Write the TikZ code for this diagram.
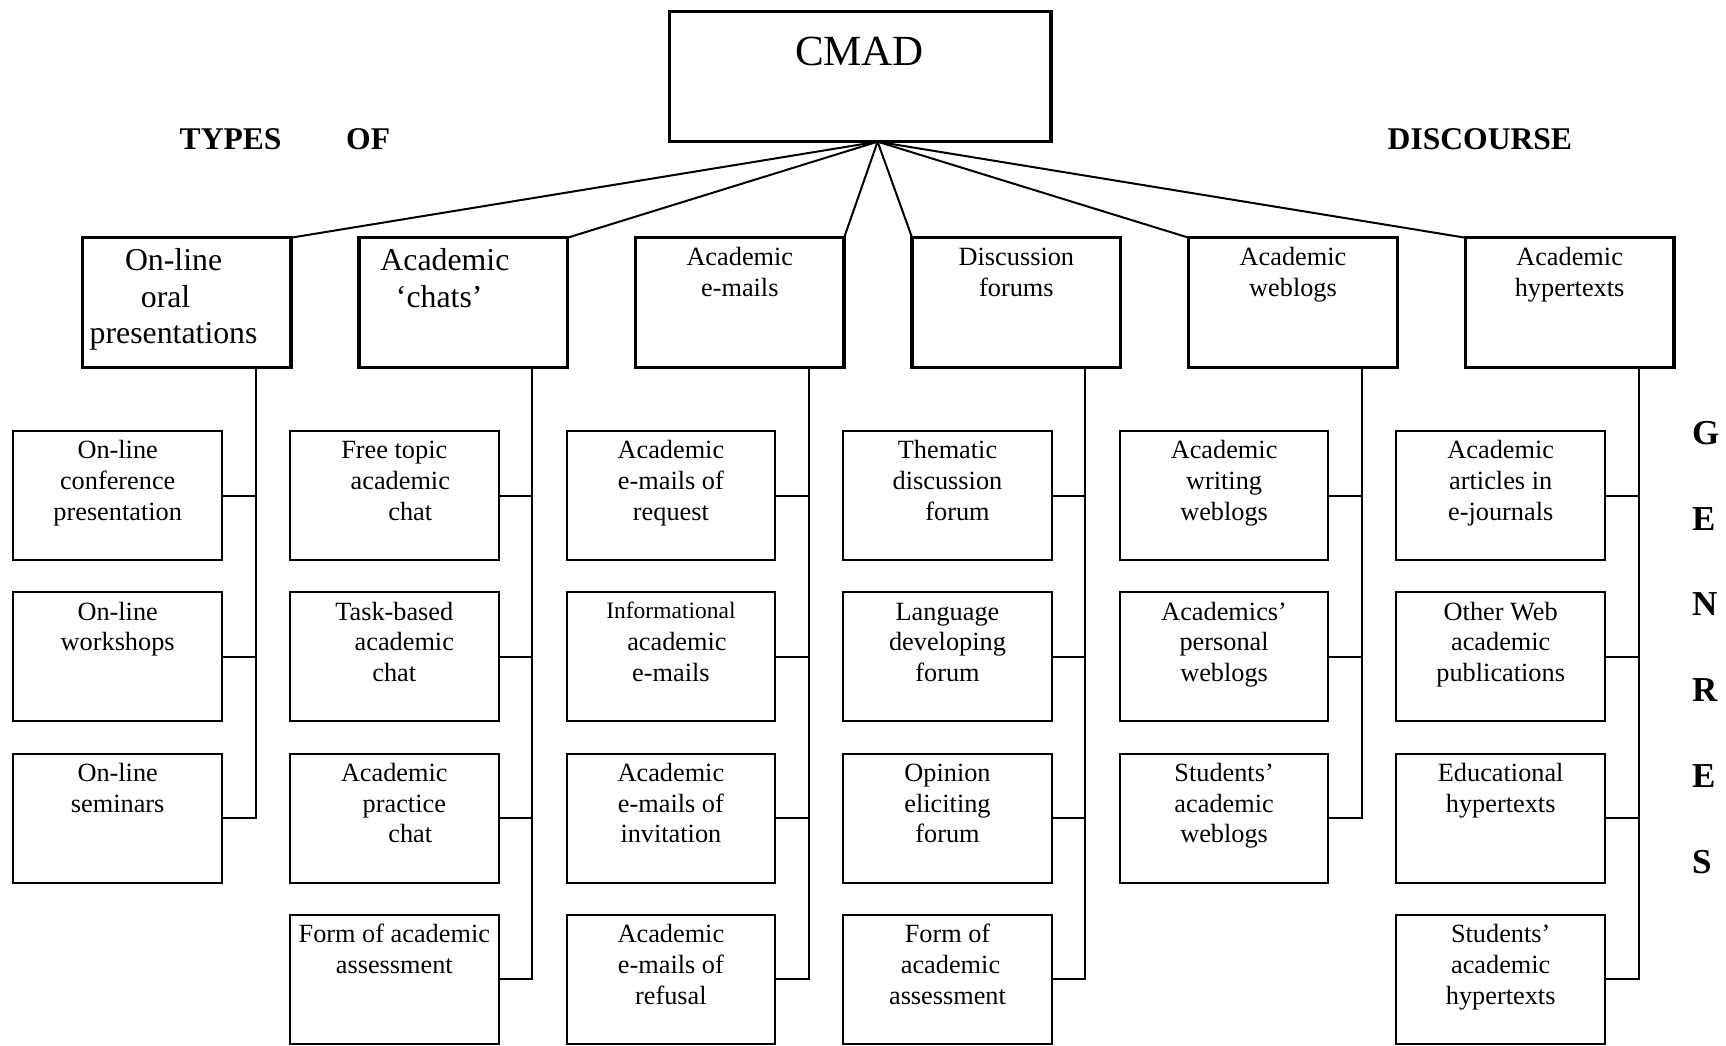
\documentclass[tikz,border=0pt]{standalone}
\usepackage{fontspec}
\setmainfont{Liberation Serif}
\usetikzlibrary{calc}
\newcommand\shr[2]{\hspace*{#1}#2}
\newcommand\shl[2]{#2\hspace*{#1}}
\newcommand\lines[1]{\begin{tabular}[t]{@{}c@{}}#1\end{tabular}}
\begin{document}
\begin{tikzpicture}[x=1pt,y=-1pt,
  topbox/.style={draw, line width=3.3pt, inner sep=0pt, outer sep=0pt, minimum width=381.2pt, minimum height=130pt},
  typebox/.style={draw, line width=3.3pt, inner sep=0pt, outer sep=0pt, minimum width=208.6pt, minimum height=130pt},
  genrebox/.style={draw, line width=2.1pt, inner sep=0pt, outer sep=0pt, minimum width=208.6pt, minimum height=129pt},
  link/.style={line width=2pt},
  bigtxt/.style={inner sep=0pt, anchor=base, font=\fontsize{31.8}{36.3}\selectfont},
  midtxt/.style={inner sep=0pt, anchor=base, font=\fontsize{26.3}{30.3}\selectfont},
  smalltxt/.style={inner sep=0pt, anchor=base, font=\fontsize{26.3}{30.7}\selectfont},
  headtxt/.style={inner sep=0pt, anchor=base west, font=\bfseries\fontsize{31.6}{36}\selectfont},
  lettertxt/.style={inner sep=0pt, anchor=base west, font=\bfseries\fontsize{35}{40}\selectfont},
]
\useasboundingbox (0,0) rectangle (1726,1045);

% root
\node[topbox] (cmad) at (860.4,76.7) {};
\node[inner sep=0pt, anchor=base, font=\fontsize{43}{50}\selectfont] (cmadt) at (859.5,65) {CMAD};
\coordinate (apex) at ($(cmad.south)+(17.2,0)$);

% headings
\node[headtxt] (types) at (179.5,149) {TYPES};
\node[headtxt] (of) at (346,149) {OF};
\node[headtxt] (disc) at (1387.5,149) {DISCOURSE};
\node[lettertxt] (g1) at (1692,444.5) {G};
\node[lettertxt] (g2) at (1692,530.2) {E};
\node[lettertxt] (g3) at (1692,615.9) {N};
\node[lettertxt] (g4) at (1692,701.6) {R};
\node[lettertxt] (g5) at (1692,787.3) {E};
\node[lettertxt] (g6) at (1692,873.0) {S};

% types
\node[typebox] (b1) at (186.6,302.7) {};
\node[typebox] (b2) at (463.2,302.7) {};
\node[typebox] (b3) at (739.8,302.7) {};
\node[typebox] (b4) at (1016.4,302.7) {};
\node[typebox] (b5) at (1293.0,302.7) {};
\node[typebox] (b6) at (1569.6,302.7) {};
\node[bigtxt] (b1t) at ($(b1.north)+(-13,33)$) {\lines{On-line\\\shl{16pt}{oral}\\presentations}};
\node[bigtxt] (b2t) at ($(b2.north)+(-18.3,33)$) {\lines{Academic\\\shl{11.4pt}{‘chats’}}};
\node[midtxt] (b3t) at ($(b3.north)+(0,28)$) {\lines{Academic\\e-mails}};
\node[midtxt] (b4t) at ($(b4.north)+(0,28)$) {\lines{Discussion\\forums}};
\node[midtxt] (b5t) at ($(b5.north)+(0,28)$) {\lines{Academic\\weblogs}};
\node[midtxt] (b6t) at ($(b6.north)+(0,28)$) {\lines{Academic\\hypertexts}};

\draw[link] (apex) -- (b1.north east);
\draw[link] (apex) -- (b2.north east);
\draw[link] (apex) -- (b3.north east);
\draw[link] (apex) -- (b4.north west);
\draw[link] (apex) -- (b5.north west);
\draw[link] (apex) -- (b6.north west);

% genre boxes: column 1
\node[genrebox] (c1r1) at (117.7,495.5) {};
\node[genrebox] (c1r2) at (117.7,656.8) {};
\node[genrebox] (c1r3) at (117.7,818.1) {};
\node[smalltxt] (c1r1t) at ($(c1r1.north)+(0,27.8)$) {\lines{On-line\\conference\\presentation}};
\node[smalltxt] (c1r2t) at ($(c1r2.north)+(0,27.8)$) {\lines{On-line\\workshops}};
\node[smalltxt] (c1r3t) at ($(c1r3.north)+(0,27.8)$) {\lines{On-line\\seminars}};

% column 2
\node[genrebox] (c2r1) at (394.3,495.5) {};
\node[genrebox] (c2r2) at (394.3,656.8) {};
\node[genrebox] (c2r3) at (394.3,818.1) {};
\node[genrebox] (c2r4) at (394.3,979.4) {};
\node[smalltxt] (c2r1t) at ($(c2r1.north)+(0,27.8)$) {\lines{Free topic\\\shr{12pt}{academic}\\\shr{32pt}{chat}}};
\node[smalltxt] (c2r2t) at ($(c2r2.north)+(0,27.8)$) {\lines{Task-based\\\shr{20pt}{academic}\\chat}};
\node[smalltxt] (c2r3t) at ($(c2r3.north)+(0,27.8)$) {\lines{Academic\\\shr{20pt}{practice}\\\shr{32pt}{chat}}};
\node[smalltxt] (c2r4t) at ($(c2r4.north)+(0,27.8)$) {\lines{Form of academic\\assessment}};

% column 3
\node[genrebox] (c3r1) at (670.9,495.5) {};
\node[genrebox] (c3r2) at (670.9,656.8) {};
\node[genrebox] (c3r3) at (670.9,818.1) {};
\node[genrebox] (c3r4) at (670.9,979.4) {};
\node[smalltxt] (c3r1t) at ($(c3r1.north)+(0,27.8)$) {\lines{Academic\\e-mails of\\request}};
\node[smalltxt] (c3r2t) at ($(c3r2.north)+(0,27.8)$) {\lines{\raisebox{2pt}{\fontsize{23.5}{27}\selectfont Informational}\\\shr{12pt}{academic}\\e-mails}};
\node[smalltxt] (c3r3t) at ($(c3r3.north)+(0,27.8)$) {\lines{Academic\\e-mails of\\invitation}};
\node[smalltxt] (c3r4t) at ($(c3r4.north)+(0,27.8)$) {\lines{Academic\\e-mails of\\refusal}};

% column 4
\node[genrebox] (c4r1) at (947.5,495.5) {};
\node[genrebox] (c4r2) at (947.5,656.8) {};
\node[genrebox] (c4r3) at (947.5,818.1) {};
\node[genrebox] (c4r4) at (947.5,979.4) {};
\node[smalltxt] (c4r1t) at ($(c4r1.north)+(0,27.8)$) {\lines{Thematic\\discussion\\\shr{20pt}{forum}}};
\node[smalltxt] (c4r2t) at ($(c4r2.north)+(0,27.8)$) {\lines{Language\\developing\\forum}};
\node[smalltxt] (c4r3t) at ($(c4r3.north)+(0,27.8)$) {\lines{Opinion\\eliciting\\forum}};
\node[smalltxt] (c4r4t) at ($(c4r4.north)+(0,27.8)$) {\lines{Form of\\\shr{6pt}{academic}\\assessment}};

% column 5
\node[genrebox] (c5r1) at (1224.1,495.5) {};
\node[genrebox] (c5r2) at (1224.1,656.8) {};
\node[genrebox] (c5r3) at (1224.1,818.1) {};
\node[smalltxt] (c5r1t) at ($(c5r1.north)+(0,27.8)$) {\lines{Academic\\writing\\weblogs}};
\node[smalltxt] (c5r2t) at ($(c5r2.north)+(0,27.8)$) {\lines{Academics’\\personal\\weblogs}};
\node[smalltxt] (c5r3t) at ($(c5r3.north)+(0,27.8)$) {\lines{Students’\\academic\\weblogs}};

% column 6
\node[genrebox] (c6r1) at (1500.7,495.5) {};
\node[genrebox] (c6r2) at (1500.7,656.8) {};
\node[genrebox] (c6r3) at (1500.7,818.1) {};
\node[genrebox] (c6r4) at (1500.7,979.4) {};
\node[smalltxt] (c6r1t) at ($(c6r1.north)+(0,27.8)$) {\lines{Academic\\articles in\\e-journals}};
\node[smalltxt] (c6r2t) at ($(c6r2.north)+(0,27.8)$) {\lines{Other Web\\academic\\publications}};
\node[smalltxt] (c6r3t) at ($(c6r3.north)+(0,27.8)$) {\lines{Educational\\hypertexts}};
\node[smalltxt] (c6r4t) at ($(c6r4.north)+(0,27.8)$) {\lines{Students’\\academic\\hypertexts}};

% trunks
\coordinate (t1) at ($(b1.south west)+(173.3,0)$);
\coordinate (t2) at ($(b2.south west)+(173.3,0)$);
\coordinate (t3) at ($(b3.south west)+(173.3,0)$);
\coordinate (t4) at ($(b4.south west)+(173.3,0)$);
\coordinate (t5) at ($(b5.south west)+(173.3,0)$);
\coordinate (t6) at ($(b6.south west)+(173.3,0)$);

\draw[link] (t1) |- (c1r3.east);
\draw[link] (c1r1.east) -- (c1r1.east -| t1);
\draw[link] (c1r2.east) -- (c1r2.east -| t1);

\draw[link] (t2) |- (c2r4.east);
\draw[link] (c2r1.east) -- (c2r1.east -| t2);
\draw[link] (c2r2.east) -- (c2r2.east -| t2);
\draw[link] (c2r3.east) -- (c2r3.east -| t2);

\draw[link] (t3) |- (c3r4.east);
\draw[link] (c3r1.east) -- (c3r1.east -| t3);
\draw[link] (c3r2.east) -- (c3r2.east -| t3);
\draw[link] (c3r3.east) -- (c3r3.east -| t3);

\draw[link] (t4) |- (c4r4.east);
\draw[link] (c4r1.east) -- (c4r1.east -| t4);
\draw[link] (c4r2.east) -- (c4r2.east -| t4);
\draw[link] (c4r3.east) -- (c4r3.east -| t4);

\draw[link] (t5) |- (c5r3.east);
\draw[link] (c5r1.east) -- (c5r1.east -| t5);
\draw[link] (c5r2.east) -- (c5r2.east -| t5);

\draw[link] (t6) |- (c6r4.east);
\draw[link] (c6r1.east) -- (c6r1.east -| t6);
\draw[link] (c6r2.east) -- (c6r2.east -| t6);
\draw[link] (c6r3.east) -- (c6r3.east -| t6);
\end{tikzpicture}
\end{document}
